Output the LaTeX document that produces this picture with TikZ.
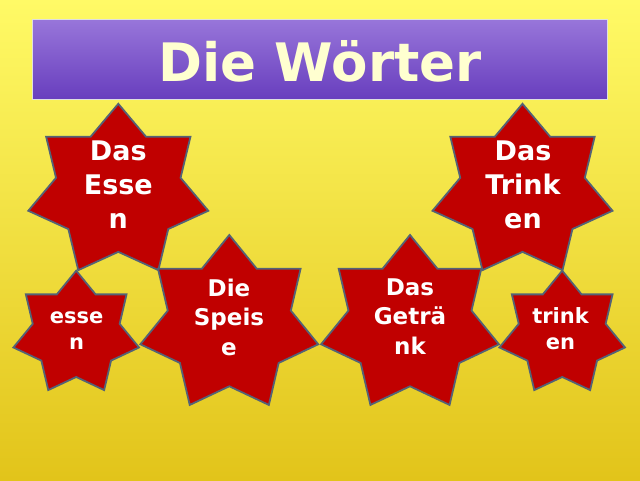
\documentclass[tikz,border=0pt]{standalone}
\usepackage{fontspec}
\setmainfont{DejaVu Sans}
\definecolor{bgtop}{RGB}{255,250,102}
\definecolor{bgbot}{RGB}{226,196,26}
\definecolor{titletop}{RGB}{152,118,218}
\definecolor{titlebot}{RGB}{104,62,190}
\definecolor{titletext}{RGB}{255,255,208}
\definecolor{starred}{RGB}{192,0,0}
\definecolor{starline}{RGB}{84,98,118}
\tikzset{
  starstyle/.style={fill=starred, draw=starline, line width=1.8pt, line join=miter},
  wordtext/.style={text=white, align=center, anchor=north, inner sep=0pt},
  bigword/.style={wordtext, font={\bfseries\fontsize{27}{34}\selectfont}},
  midword/.style={wordtext, font={\bfseries\fontsize{23}{29.5}\selectfont}},
  smallword/.style={wordtext, font={\bfseries\fontsize{21}{26}\selectfont}},
  titlebox/.style={draw=white!75!gray, line width=0.6pt, top color=titletop, bottom color=titlebot,
    minimum width=575pt, minimum height=80pt, inner sep=0pt},
  titletextstyle/.style={text=titletext, font={\bfseries\fontsize{53}{60}\selectfont}, anchor=base, inner sep=0pt}
}
\newcommand\heptstar[4]{%
  \draw[starstyle] plot[samples at={0,...,13}]
    ({#1+(isodd(\x)?0.692:1)*#3*cos(90+\x*360/14)},
     {#2-(isodd(\x)?0.692:1)*#4*sin(90+\x*360/14)}) -- cycle;}
\begin{document}
\begin{tikzpicture}[x=1pt,y=-1pt]
  \shade[top color=bgtop, bottom color=bgbot] (0,0) rectangle (640,480);
  \useasboundingbox (0,0) rectangle (640,480);
  % title
  \node[titlebox] (tbox) at (319.5,59) {};
  \node[titletextstyle] (title) at (320,81.5) {Die Wörter};
  % stars
  \heptstar{118.3}{191.3}{92.3}{87.5}
  \heptstar{522.5}{191.3}{92.3}{87.5}
  \heptstar{76.2}{333.5}{64.4}{62.8}
  \heptstar{562.2}{333.5}{64.4}{62.8}
  \heptstar{229.3}{324.4}{91.2}{89.4}
  \heptstar{410}{324.4}{91.2}{89.4}
  % words
  \node[bigword] (essen1) at (118.3,140.5) {Das\\Esse\\n};
  \node[bigword] (trinken1) at (523,140.5) {Das\\Trink\\en};
  \node[smallword] (essen2) at (76.7,311.5) {esse\\n};
  \node[smallword] (trinken2) at (560.5,307.3) {trink\\en};
  \node[midword] (speise) at (229,278.5) {Die\\Speis\\e};
  \node[midword] (getraenk) at (410,278.5) {Das\\Geträ\\nk};
\end{tikzpicture}
\end{document}
